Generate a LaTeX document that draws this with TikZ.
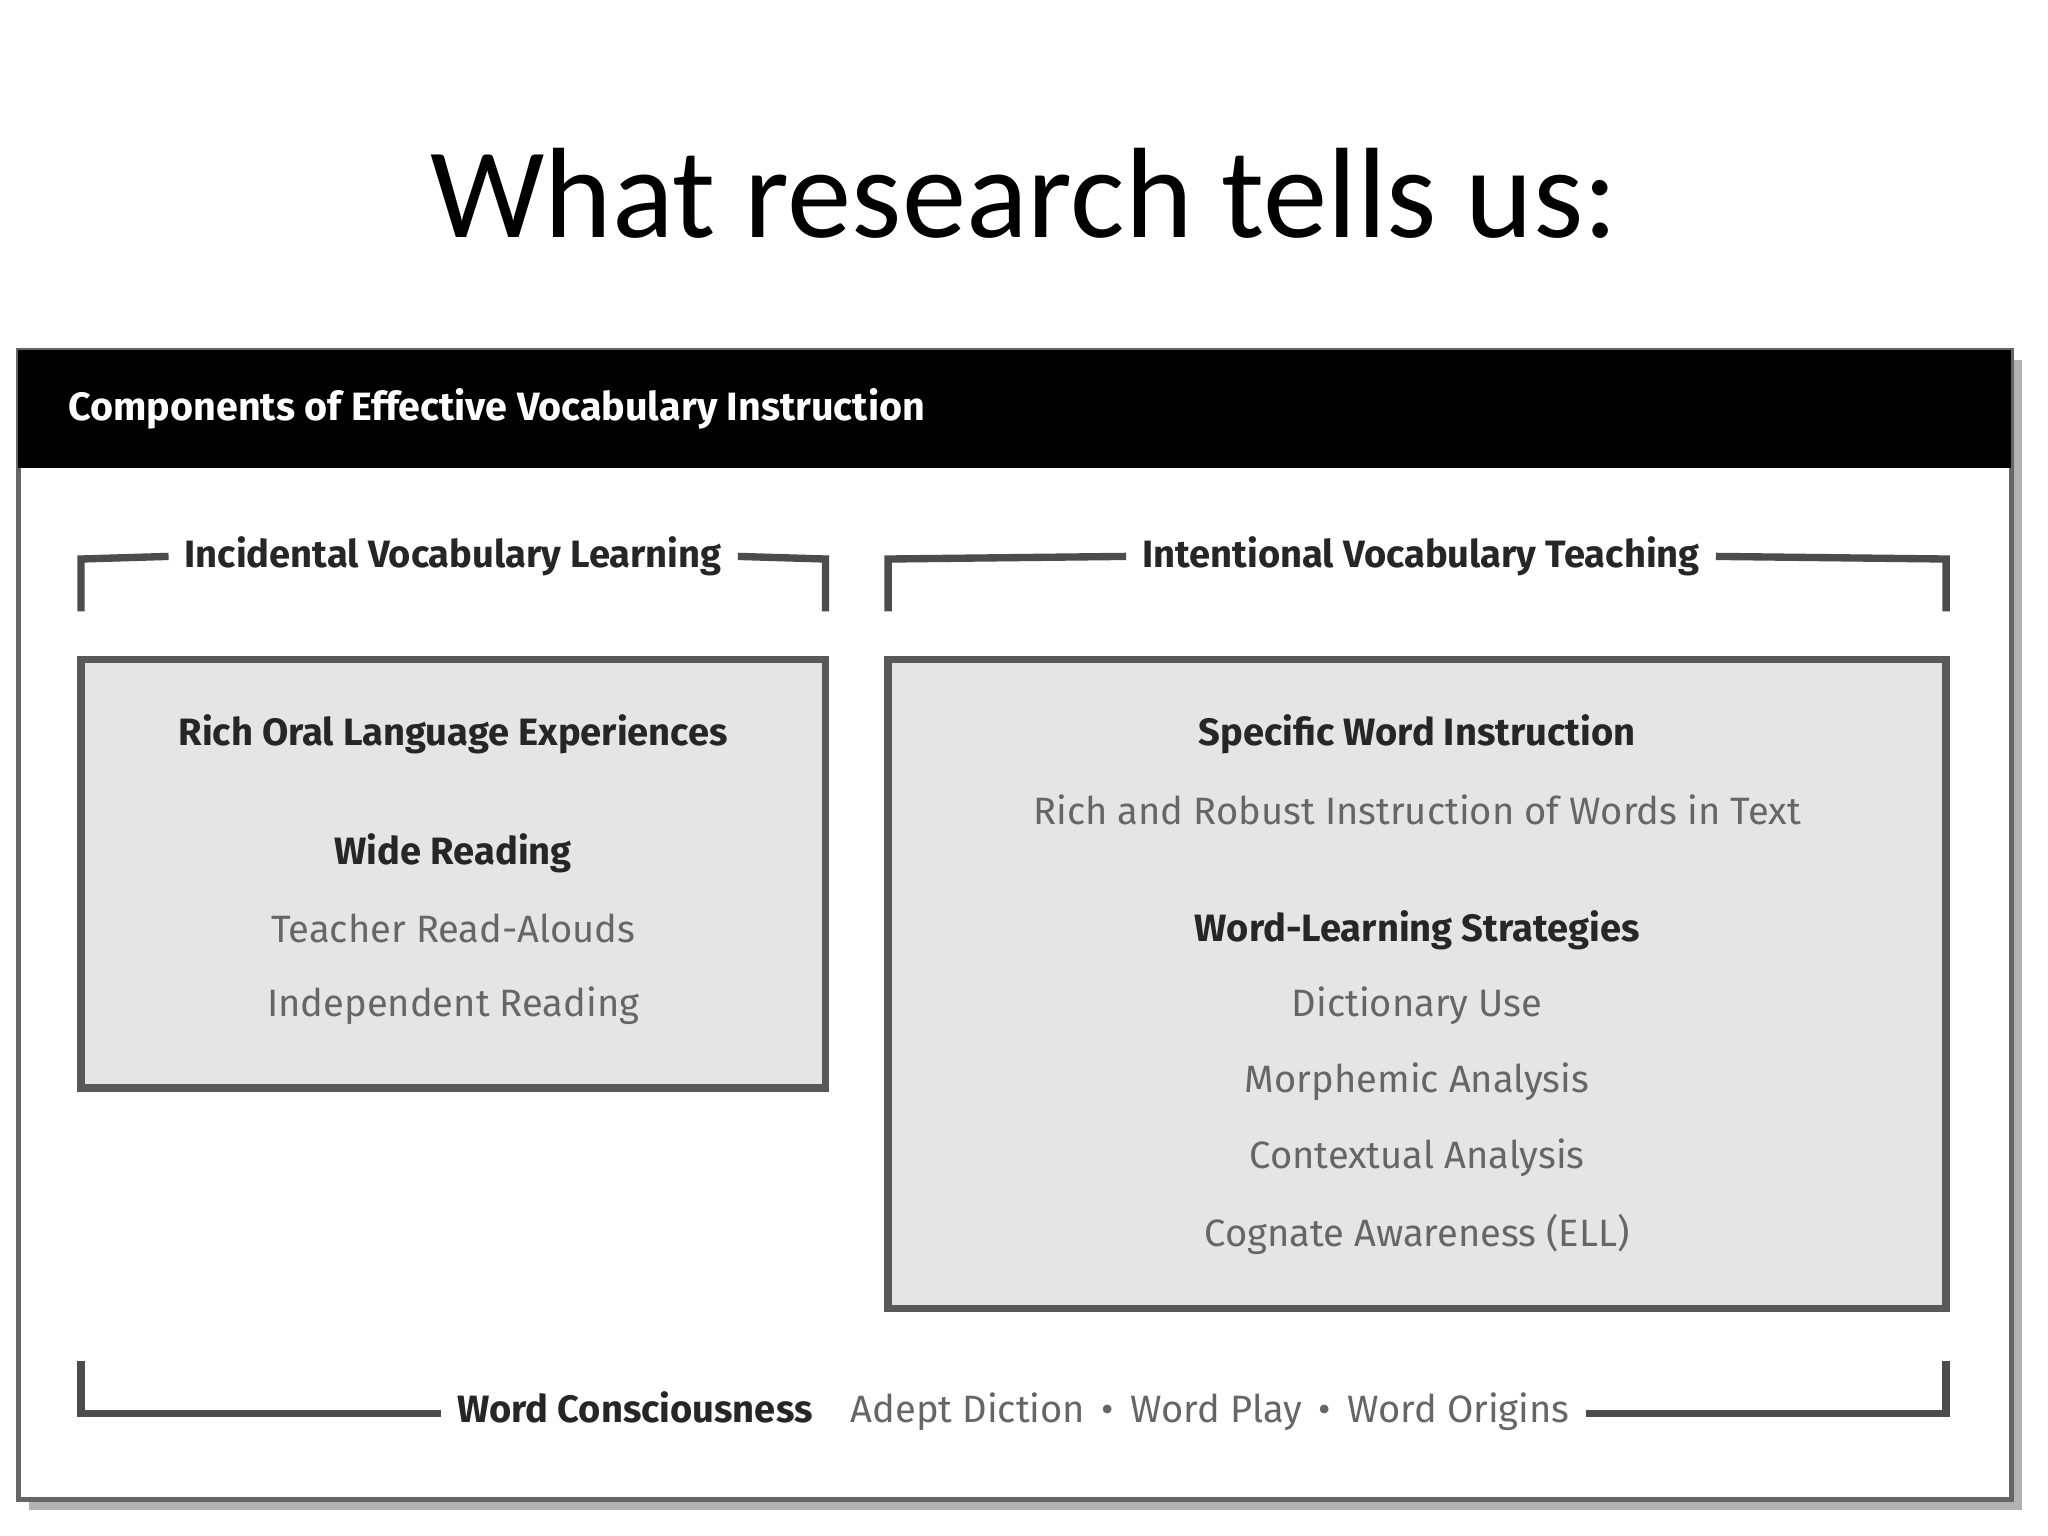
\documentclass[tikz,border=0pt]{standalone}
\usepackage{fontspec}
\setmainfont{Carlito}
\newfontfamily\boxfont{Fira Sans}
\begin{document}
\begin{tikzpicture}[x=0.01cm,y=-0.01cm,
  hd/.style={font=\boxfont\fontsize{8.3}{10}\selectfont\bfseries,text=black!85},
  it/.style={font=\boxfont\fontsize{8.3}{10}\selectfont,text=black!60},
  br/.style={draw=black!70,line width=1.6pt},
  bx/.style={draw=black!65,line width=1.6pt,fill=black!10}]
\useasboundingbox (0,0) rectangle (1568,1176);
\node (title) at (784,148) {\fontsize{28}{32}\selectfont What research tells us:};
% frame
\fill[black!30] (22,276) rectangle (1548,1156);
\draw[fill=white,draw=black!60,line width=1pt] (14,268) rectangle (1540,1148);
\fill[black] (14,268) rectangle (1540,358);
\node[anchor=west,text=white,font=\boxfont\fontsize{8.6}{10}\selectfont\bfseries] (hdr) at (40,313) {Components of Effective Vocabulary Instruction};
% top brackets
\node[hd] (inc) at (347,426) {Incidental Vocabulary Learning};
\draw[br] (62,468) -- (62,428) -- (inc.west);
\draw[br] (632,468) -- (632,428) -- (inc.east);
\node[hd] (int) at (1088,426) {Intentional Vocabulary Teaching};
\draw[br] (680,468) -- (680,428) -- (int.west);
\draw[br] (1490,468) -- (1490,428) -- (int.east);
% boxes
\draw[bx] (62,505) rectangle (632,833);
\node[hd] (l1) at (347,562) {Rich Oral Language Experiences};
\node[hd] (l2) at (347,653) {Wide Reading};
\node[it] (l3) at (347,711) {Teacher Read-Alouds};
\node[it] (l4) at (347,770) {Independent Reading};
\draw[bx] (680,505) rectangle (1490,1002);
\node[hd] (r1) at (1085,562) {Specific Word Instruction};
\node[it] (r2) at (1085,620) {Rich and Robust Instruction of Words in Text};
\node[hd] (r3) at (1085,712) {Word-Learning Strategies};
\node[it] (r4) at (1085,770) {Dictionary Use};
\node[it] (r5) at (1085,828) {Morphemic Analysis};
\node[it] (r6) at (1085,886) {Contextual Analysis};
\node[it] (r7) at (1085,945) {Cognate Awareness (ELL)};
% bottom bracket
\node (wc) at (776,1080) {\boxfont\fontsize{8.3}{10}\selectfont\textbf{\color{black!85}Word Consciousness}\quad{\color{black!60}Adept Diction \,\textbullet\, Word Play \,\textbullet\, Word Origins}};
\draw[br] (62,1042) -- (62,1082) -- (wc.west |- 0,1082);
\draw[br] (1490,1042) -- (1490,1082) -- (wc.east |- 0,1082);
\end{tikzpicture}
\end{document}
